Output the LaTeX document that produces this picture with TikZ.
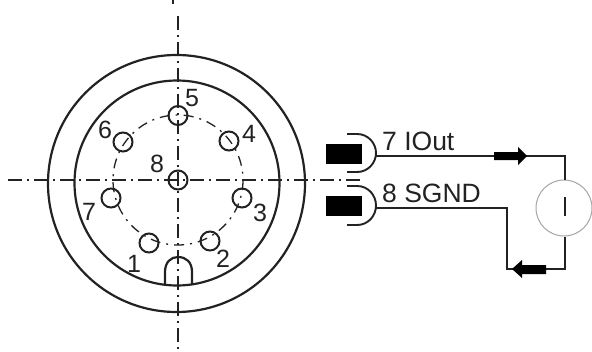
\documentclass[tikz,border=0pt]{standalone}
\usepackage{fontspec}
\setmainfont{Liberation Sans}
\usetikzlibrary{calc}
\definecolor{ink}{HTML}{222222}
\tikzset{
  x=1pt,y=-1pt,
  wire/.style={draw=ink,line width=1.9pt},
  ring/.style={draw=ink,line width=2.2pt},
  axis/.style={draw=ink,line width=1.6pt,dash pattern=on 14pt off 5pt on 2pt off 5pt},
  thin axis/.style={draw=ink,line width=1.3pt,dash pattern=on 10pt off 6pt on 2pt off 6pt},
  pin/.style={circle,draw=ink,line width=2pt,fill=none,minimum size=19pt,inner sep=0pt},
  pinlabel/.style={font=\fontsize{25}{25}\selectfont,text=ink,inner sep=0pt},
  wirelabel/.style={font=\fontsize{26.5}{27}\selectfont,text=ink,inner sep=0pt,anchor=base west},
  plug/.style={fill=black,draw=none,minimum width=36pt,minimum height=20pt,inner sep=0pt},
  meter/.style={circle,draw=gray!70,line width=1pt,fill=white,minimum size=56pt,inner sep=0pt,text=ink},
}
\begin{document}
\begin{tikzpicture}
\useasboundingbox (0,0) rectangle (592,351);
% axes
\draw[ink,line width=1.2pt] (173,0) -- (173,4);
\draw[axis] (178,16) -- (178,351);
\draw[axis] (8,180) -- (362,180);
% rings
\draw[ring] (176.5,183.5) circle (128.5);
\draw[ring] (177,183) circle (102.5);
% pitch circle
\draw[thin axis] (178,180) circle (65);
% key
\draw[ring] (165,284) -- (165,272) .. controls (165,262) and (171,257) .. (178,257) .. controls (186,257) and (192,262) .. (192,272) -- (192,284);
% pins
\node[pin] (p5) at (178,115.5) {};
\node[pin] (p6) at (123,142) {};
\node[pin] (p4) at (229,141) {};
\node[pin] (p8) at (178,180) {};
\node[pin] (p7) at (111,198) {};
\node[pin] (p3) at (242,198) {};
\node[pin] (p1) at (149,243) {};
\node[pin] (p2) at (210,241) {};
% labels
\node[pinlabel] (l5) at (192,98) {5};
\node[pinlabel] (l6) at (105,130) {6};
\node[pinlabel] (l4) at (249,134) {4};
\node[pinlabel] (l8) at (157,164) {8};
\node[pinlabel] (l7) at (89,212) {7};
\node[pinlabel] (l3) at (260,213) {3};
\node[pinlabel] (l1) at (134,264) {1};
\node[pinlabel] (l2) at (223,259) {2};
% plugs
\node[plug] (plugA) at (344,154) {};
\node[plug] (plugB) at (344,206) {};
\coordinate (sockA) at (376,156);
\coordinate (sockB) at (376,208);
\draw[wire] (347,134) -- (357,134) .. controls (368,134) and (376,143) .. (376,153) .. controls (376,163) and (368,172) .. (357,172) -- (347,172);
\draw[wire] (347,186) -- (357,186) .. controls (368,186) and (376,195) .. (376,205.5) .. controls (376,216) and (368,225) .. (357,225) -- (347,225);
% meter
\node[meter] (meter) at (564,208) {};
\draw[ink,line width=2pt] (565,197) -- (565,216);
% wires
\coordinate (cornerA) at (565,156);
\coordinate (cornerB) at (565,269);
\coordinate (cornerC) at (507,269);
\coordinate (cornerD) at (507,208);
\draw[wire] (sockA) -- (cornerA) -- (meter.north -| cornerA);
\draw[wire] (meter.south -| cornerB) -- (cornerB) -- (cornerC) -- (cornerD) -- (sockB);
% arrows
\fill[black] (494,152) -- (518,152) -- (518,147) -- (527,156) -- (518,165) -- (518,160) -- (494,160) -- cycle;
\fill[black] (546,265) -- (522,265) -- (522,260) -- (512,269) -- (522,278) -- (522,274) -- (546,274) -- cycle;
% wire labels
\node[wirelabel] (wa) at (382,150) {7 IOut};
\node[wirelabel] (wb) at (382,202) {8 SGND};
\end{tikzpicture}
\end{document}
